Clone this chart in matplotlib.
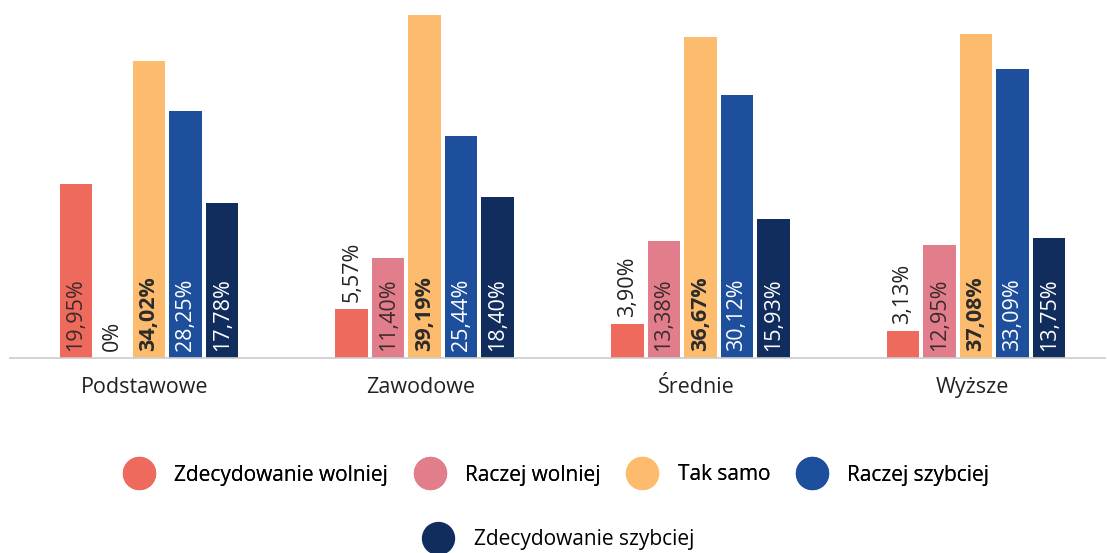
import matplotlib.pyplot as plt
from matplotlib.lines import Line2D
import numpy as np

plt.rcParams['font.family'] = ['Open Sans', 'DejaVu Sans']

categories = ["Podstawowe", "Zawodowe", "Średnie", "Wyższe"]
series = ["Zdecydowanie wolniej", "Raczej wolniej", "Tak samo",
          "Raczej szybciej", "Zdecydowanie szybciej"]
zdec_wolniej = [19.95, 5.57, 3.90, 3.13]
raczej_wolniej = [0.0, 11.40, 13.38, 12.95]
tak_samo = [34.02, 39.19, 36.67, 37.08]
raczej_szybciej = [28.25, 25.44, 30.12, 33.09]
zdec_szybciej = [17.78, 18.40, 15.93, 13.75]

values = [zdec_wolniej, raczej_wolniej, tak_samo, raczej_szybciej, zdec_szybciej]
colors = ["#EE6A5C", "#E27D8B", "#FDBB6E", "#1E4F9C", "#112D5E"]
text_colors = ["#3a2b2b", "#3a2b2b", "#2b2b2b", "white", "white"]
weights = ["normal", "normal", "bold", "normal", "normal"]

fig = plt.figure(figsize=(11.07, 5.53), dpi=100)
ax = fig.add_axes([0, 1 - 358 / 553, 1, 358 / 553])

x = np.arange(len(categories))
step = 0.1325
width = 0.118

for i, (vals, col) in enumerate(zip(values, colors)):
    pos = x + (i - 2) * step
    ax.bar(pos, vals, width=width, color=col)
    for p, v in zip(pos, vals):
        lab = f"{v:.2f}%".replace(".", ",") if v > 0 else "0%"
        if v < 8:
            ax.annotate(lab, (p, v), xytext=(0, 5), textcoords="offset points",
                        rotation=90, ha="center", va="bottom", fontsize=15.5,
                        color="#222222")
        else:
            ax.annotate(lab, (p, 0), xytext=(0, 5), textcoords="offset points",
                        rotation=90, ha="center", va="bottom", fontsize=15.5,
                        color=text_colors[i], fontweight=weights[i])

ax.set_xlim(-149 / 275.7, (1107 - 149) / 275.7)
ax.set_ylim(0, 40.95)
ax.set_xticks(x - 0.015)
ax.set_xticklabels(categories, fontsize=15.5, color="#222222")
ax.tick_params(axis="x", length=0, pad=14)
ax.set_yticks([])
for s in ["top", "right", "left"]:
    ax.spines[s].set_visible(False)
ax.spines["bottom"].set_color("#cccccc")
ax.spines["bottom"].set_linewidth(1.2)
ax.spines["bottom"].set_bounds(-149 / 275.7 + 10 / 275.7, (1105 - 149) / 275.7)

handles = [Line2D([], [], marker="o", linestyle="", markersize=23,
                  markerfacecolor=c, markeredgecolor=c) for c in colors]
leg1 = fig.legend(handles[:4], series[:4], loc="center", bbox_to_anchor=(0.503, 1 - 475 / 553),
                  ncol=4, frameon=False, fontsize=15, handletextpad=1.0,
                  columnspacing=1.3, handlelength=1.4)
fig.add_artist(leg1)
fig.legend(handles[4:], series[4:], loc="center", bbox_to_anchor=(0.505, 1 - 540 / 553),
           ncol=1, frameon=False, fontsize=15, handletextpad=1.0, handlelength=1.4)

fig.savefig("out.png", dpi=100)
